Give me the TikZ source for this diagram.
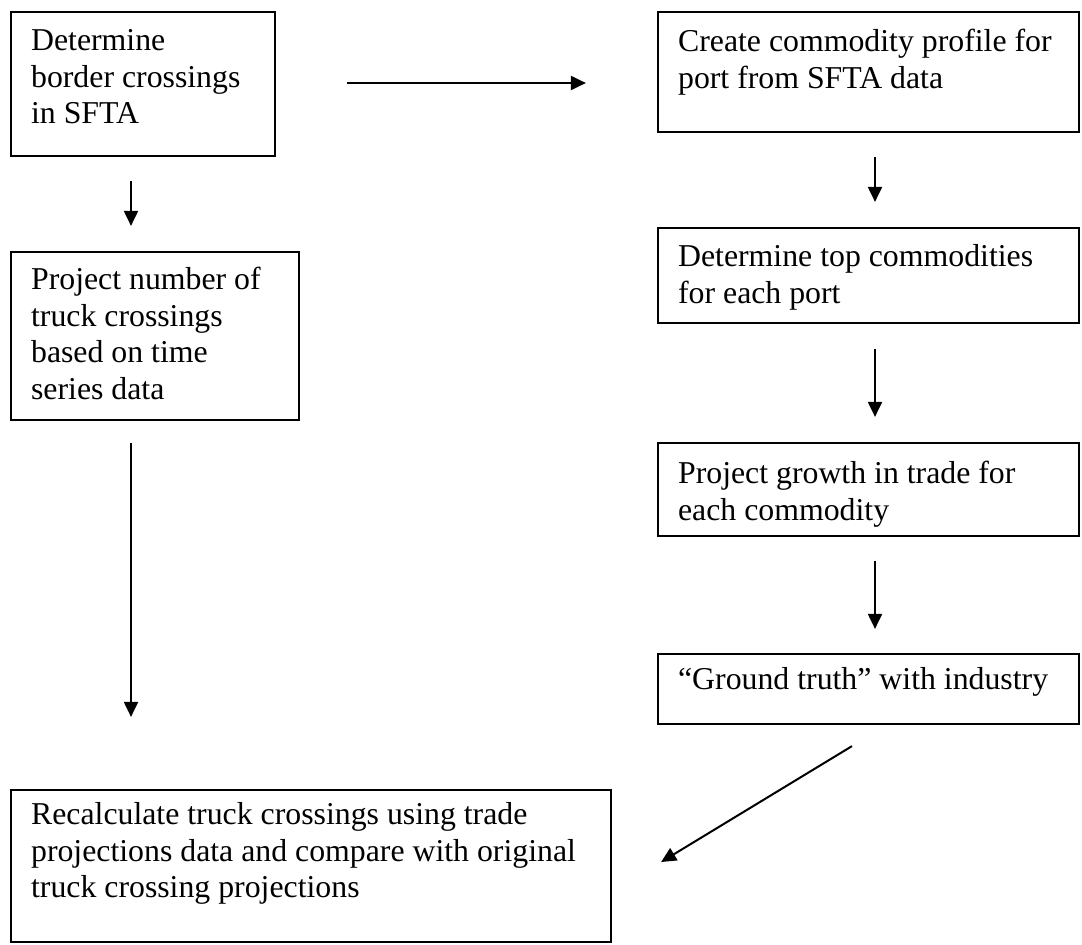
\documentclass[tikz,border=0pt]{standalone}
\usepackage{fontspec}
\setmainfont{Liberation Serif}
\usetikzlibrary{arrows.meta}
\tikzset{
  box/.style={draw=black, line width=2.2pt, rectangle, inner sep=0pt},
  txt/.style={anchor=north west, inner sep=0pt, align=left,
    font=\fontsize{31.8}{36.5}\selectfont},
  arr/.style={line width=2pt, -{Triangle[length=15pt,width=14pt]}}
}
\begin{document}
\begin{tikzpicture}[x=1pt,y=-1pt]
\useasboundingbox (0,0) rectangle (1082,945);
% boxes
\node[box, minimum width=264pt, minimum height=144pt] (b1) at (143,84) {};
\node[box, minimum width=421pt, minimum height=120pt] (b2) at (868.5,72) {};
\node[box, minimum width=288pt, minimum height=168pt] (b3) at (155,336) {};
\node[box, minimum width=421pt, minimum height=95pt] (b4) at (868.5,275.5) {};
\node[box, minimum width=421pt, minimum height=93pt] (b5) at (868.5,489.5) {};
\node[box, minimum width=421pt, minimum height=70pt] (b6) at (868.5,689) {};
\node[box, minimum width=600pt, minimum height=152pt] (b7) at (311,866) {};
% texts
\node[txt] (t1) at ([shift={(21,18.5)}]b1.north west) {Determine\\border crossings\\in SFTA};
\node[txt] (t2) at ([shift={(21,18.5)}]b2.north west) {Create commodity profile for\\port from SFTA data};
\node[txt] (t3) at ([shift={(21,16.5)}]b3.north west) {Project number of\\truck crossings\\based on time\\series data};
\node[txt] (t4) at ([shift={(21,17.5)}]b4.north west) {Determine top commodities\\for each port};
\node[txt] (t5) at ([shift={(21,19.5)}]b5.north west) {Project growth in trade for\\each commodity};
\node[txt] (t6) at ([shift={(21,14.5)}]b6.north west) {“Ground truth” with industry};
\node[txt] (t7) at ([shift={(21,13.5)}]b7.north west) {Recalculate truck crossings using trade\\projections data and compare with original\\truck crossing projections};
% connectors
\draw[arr] ([shift={(71,-1)}]b1.east) -- ([shift={(-71,11)}]b2.west);
\draw[arr] ([shift={(-12,24)}]b1.south) -- ([shift={(-24,-25)}]b3.north);
\draw[arr] ([shift={(-24,22)}]b3.south) -- ([shift={(-180,-72)}]b7.north);
\draw[arr] ([shift={(6.5,24)}]b2.south) -- ([shift={(6.5,-25)}]b4.north);
\draw[arr] ([shift={(6.5,25)}]b4.south) -- ([shift={(6.5,-25)}]b5.north);
\draw[arr] ([shift={(6.5,24)}]b5.south) -- ([shift={(6.5,-24)}]b6.north);
\draw[arr] ([shift={(-16.5,21)}]b6.south) -- ([shift={(49,-4)}]b7.east);
\end{tikzpicture}
\end{document}
